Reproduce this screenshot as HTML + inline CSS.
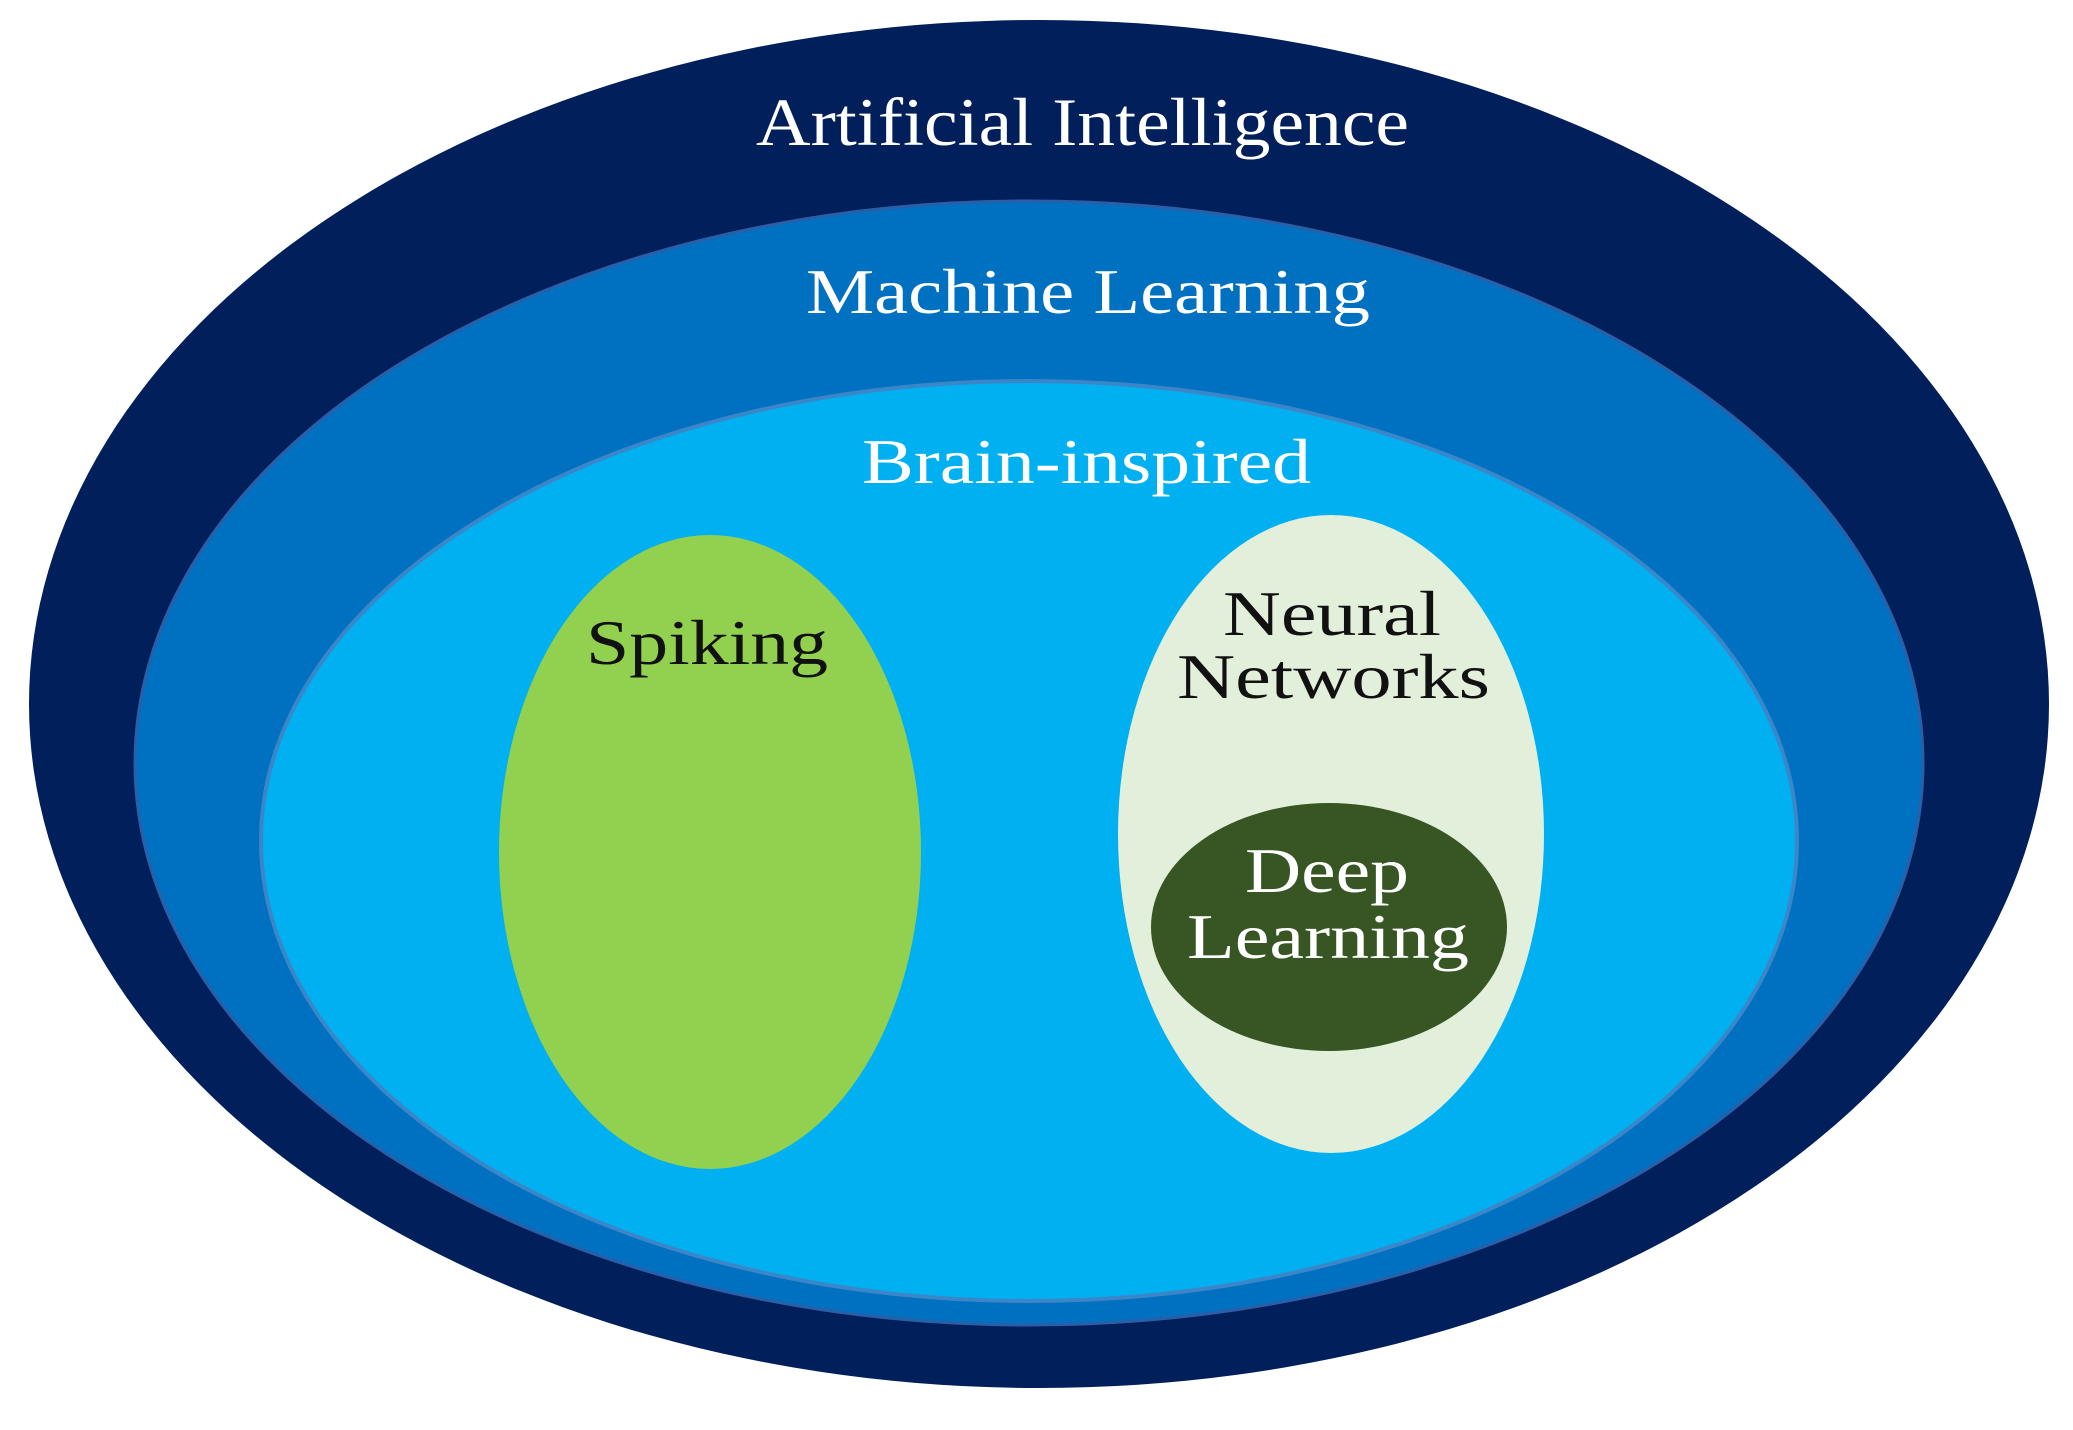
<!DOCTYPE html>
<html><head><style>html,body{margin:0;padding:0;background:#fff}svg{display:block}</style></head>
<body>
<svg width="2073" height="1430" viewBox="0 0 2073 1430" xmlns="http://www.w3.org/2000/svg" font-family="'Liberation Serif', serif">
<ellipse cx="1039" cy="704" rx="1010" ry="684" fill="#001f5b"/>
<ellipse cx="1029" cy="763" rx="894" ry="562" fill="#0070c0" stroke="#2a5fa8" stroke-width="3"/>
<ellipse cx="1029" cy="841" rx="768" ry="460" fill="#00b0f0" stroke="#3a86c8" stroke-width="4"/>
<ellipse cx="710" cy="852" rx="211" ry="317" fill="#92d050"/>
<ellipse cx="1331" cy="834" rx="213" ry="319" fill="#e2efda"/>
<ellipse cx="1329" cy="927" rx="178" ry="124" fill="#375623"/>
<text x="756" y="145" font-size="68" fill="#fff" textLength="653" lengthAdjust="spacingAndGlyphs">Artificial Intelligence</text>
<text x="806" y="313" font-size="64" fill="#fff" textLength="564" lengthAdjust="spacingAndGlyphs">Machine Learning</text>
<text x="862" y="483" font-size="64" fill="#fff" textLength="449" lengthAdjust="spacingAndGlyphs">Brain-inspired</text>
<text x="586" y="664" font-size="64" fill="#111" textLength="242" lengthAdjust="spacingAndGlyphs">Spiking</text>
<text x="1223" y="635" font-size="63" fill="#111" textLength="218" lengthAdjust="spacingAndGlyphs">Neural</text>
<text x="1177" y="698" font-size="63" fill="#111" textLength="313" lengthAdjust="spacingAndGlyphs">Networks</text>
<text x="1245" y="892" font-size="63" fill="#fff" textLength="164" lengthAdjust="spacingAndGlyphs">Deep</text>
<text x="1187" y="958" font-size="63" fill="#fff" textLength="282" lengthAdjust="spacingAndGlyphs">Learning</text>
</svg>
</body></html>
